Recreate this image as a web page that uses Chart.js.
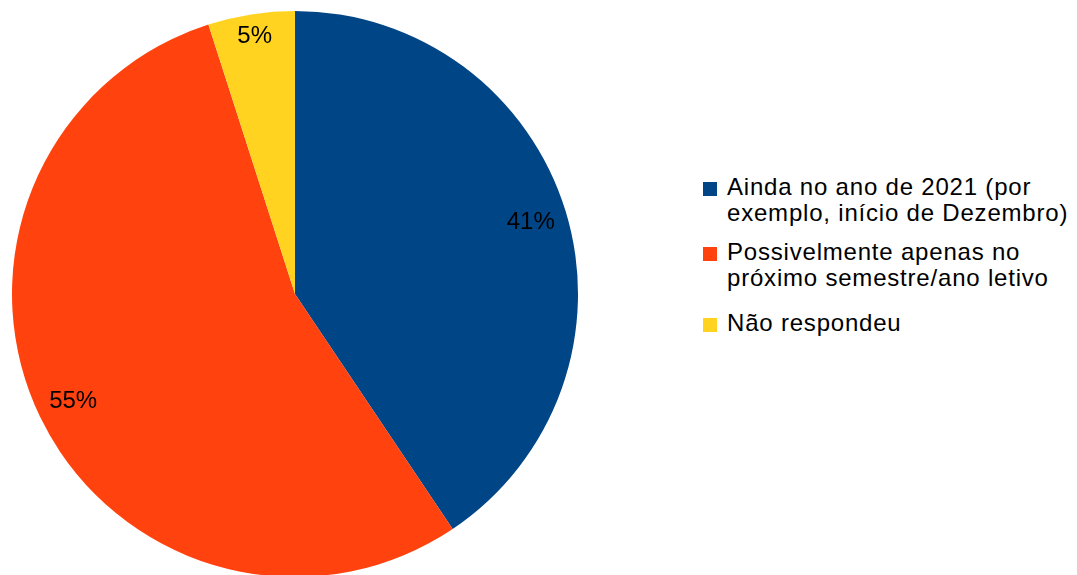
<!DOCTYPE html>
<html>
<head>
<meta charset="utf-8">
<script src="https://cdn.jsdelivr.net/npm/chart.js@4/dist/chart.umd.min.js"></script>
<style>
  html,body{margin:0;padding:0;background:#fff;overflow:hidden;}
  #wrap{position:relative;width:1077px;height:575px;}
  #pie{position:absolute;left:0;top:0;}
  #legend{position:absolute;left:703px;top:174px;font-family:"Liberation Sans",Arial,sans-serif;font-size:24px;color:#000;letter-spacing:0.8px;}
  .item{position:relative;padding-left:24px;line-height:25.5px;margin-bottom:14px;}
  .item:nth-child(2){margin-bottom:20px;}
  .sw{position:absolute;left:0;top:8px;width:14px;height:14px;}
</style>
</head>
<body>
<div id="wrap">
  <canvas id="pie" width="590" height="590"></canvas>
  <div id="legend"></div>
</div>
<script>
// Data
const labels = [
  ["Ainda no ano de 2021 (por", "exemplo, início de Dezembro)"],
  ["Possivelmente apenas no", "próximo semestre/ano letivo"],
  ["Não respondeu"]
];
const values = [41, 55, 5];
const colors = ["#004586", "#ff420e", "#ffd320"];

// percent labels inside the slices, kept ~11px off the rim
const pctLabels = {
  id: "pctLabels",
  afterDatasetsDraw(chart){
    const ctx = chart.ctx;
    const meta = chart.getDatasetMeta(0);
    ctx.save();
    ctx.font = "24px 'Liberation Sans', Arial, sans-serif";
    ctx.fillStyle = "#000";
    ctx.textAlign = "center";
    ctx.textBaseline = "middle";
    meta.data.forEach((arc, i) => {
      const p = arc.getProps(["x","y","startAngle","endAngle","outerRadius"], true);
      const mid = (p.startAngle + p.endAngle) / 2;
      const dx = Math.cos(mid), dy = Math.sin(mid);
      const txt = values[i] + "%";
      const hw = ctx.measureText(txt).width / 2, hh = 9;
      const support = hw * Math.abs(dx) + hh * Math.abs(dy);
      const r = p.outerRadius - support - 11;
      ctx.fillText(txt, p.x + dx * r, p.y + dy * r);
    });
    ctx.restore();
  }
};

new Chart(document.getElementById("pie"), {
  type: "pie",
  data: {
    labels: labels.map(l => l.join(" ")),
    datasets: [{ data: values, backgroundColor: colors, borderWidth: 0 }]
  },
  options: {
    responsive: false,
    animation: false,
    layout: { padding: { left: 12, right: 12, top: 11, bottom: 13 } },
    plugins: { legend: { display: false }, tooltip: { enabled: false } }
  },
  plugins: [pctLabels]
});

// legend
const lg = document.getElementById("legend");
labels.forEach((l, i) => {
  const d = document.createElement("div");
  d.className = "item";
  d.innerHTML = `<span class="sw" style="background:${colors[i]}"></span>` + l.join("<br>");
  lg.appendChild(d);
});
</script>
</body>
</html>
